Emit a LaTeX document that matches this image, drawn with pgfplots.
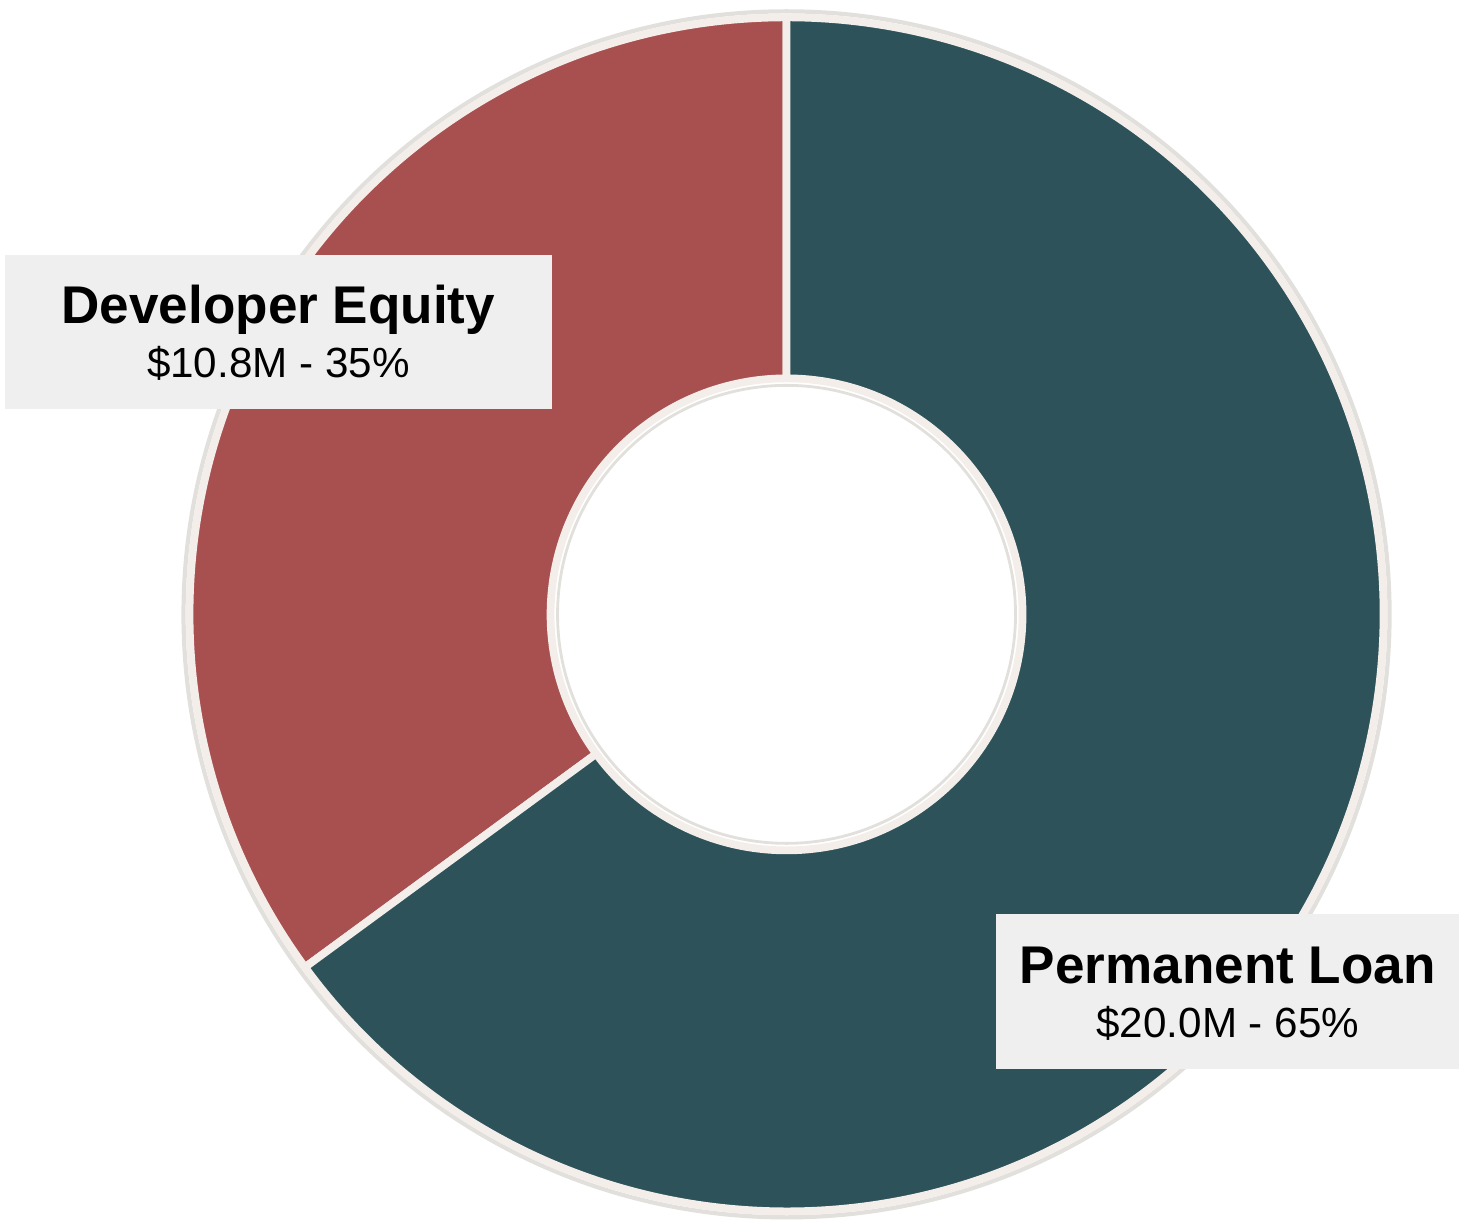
\documentclass[border=0pt]{standalone}
\usepackage{fontspec}
\setmainfont{Liberation Sans}
\usepackage{pgfplots}
\usepackage{pgfplotstable}
\pgfplotsset{compat=1.18}
\usetikzlibrary{calc}
\definecolor{equity}{HTML}{A85050}
\definecolor{loan}{HTML}{2D525A}
\definecolor{boxbg}{HTML}{EFEFEF}
\definecolor{sep}{HTML}{F4EEEA}
\definecolor{ring}{HTML}{E2E0DC}

\pgfplotstableread{
source value pct
Equity 10.8 35
Loan 20.0 65
}\fundtbl

\begin{document}
\begin{tikzpicture}
\pgfplotstablegetelem{0}{value}\of\fundtbl \pgfmathsetmacro\vEq{\pgfplotsretval}
\pgfplotstablegetelem{1}{value}\of\fundtbl \pgfmathsetmacro\vLn{\pgfplotsretval}
\pgfmathsetmacro\aSplit{90+360*\vEq/(\vEq+\vLn)}
\def\Ro{5.97cm}\def\Ri{2.36cm}
\begin{axis}[at={(0,0)},anchor=south west,x=0.01cm,y=0.01cm,xmin=0,xmax=1460,ymin=0,ymax=1220,hide axis,clip=false]
\coordinate (C) at (axis cs:787,606);
\draw[ring,line width=1.2pt] (C) circle[radius=6.03cm];
\fill[equity,draw=sep,line width=2.2pt,line join=round] ($(C)+(90:\Ro)$) arc[start angle=90,end angle=\aSplit,radius=\Ro] -- ($(C)+(\aSplit:\Ri)$) arc[start angle=\aSplit,end angle=90,radius=\Ri] -- cycle;
\fill[loan,draw=sep,line width=2.2pt,line join=round] ($(C)+(\aSplit:\Ro)$) arc[start angle=\aSplit,end angle=450,radius=\Ro] -- ($(C)+(90:\Ri)$) arc[start angle=450,end angle=\aSplit,radius=\Ri] -- cycle;
\draw[ring,line width=0.8pt] (C) circle[radius=2.29cm];
\fill[boxbg] (axis cs:5,966) rectangle (axis cs:552,811);
\node[anchor=base,inner sep=0pt,font=\bfseries\fontsize{15.1pt}{18pt}\selectfont] at (axis cs:278.5,897) {Developer Equity};
\node[anchor=base,inner sep=0pt,font=\fontsize{12pt}{14pt}\selectfont] at (axis cs:278.5,843) {\$10.8M - 35\%};
\fill[boxbg] (axis cs:997,306) rectangle (axis cs:1460,151);
\node[anchor=base,inner sep=0pt,font=\bfseries\fontsize{15.1pt}{18pt}\selectfont] at (axis cs:1228.5,237) {Permanent Loan};
\node[anchor=base,inner sep=0pt,font=\fontsize{12pt}{14pt}\selectfont] at (axis cs:1228.5,183) {\$20.0M - 65\%};
\end{axis}
\pgfresetboundingbox
\path (0,0) rectangle (14.6cm,12.2cm);
\end{tikzpicture}
\end{document}
